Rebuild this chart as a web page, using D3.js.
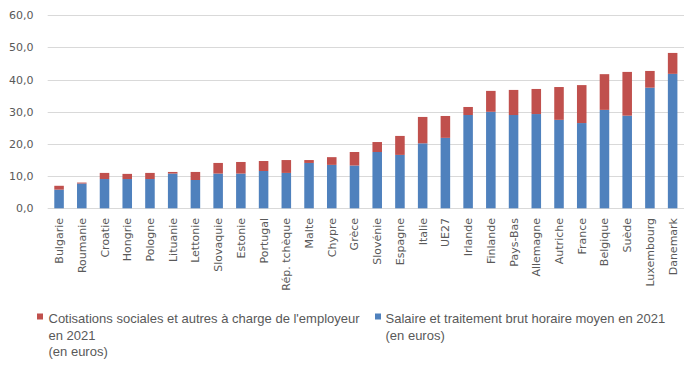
<!DOCTYPE html>
<html>
<head>
<meta charset="utf-8">
<script src="https://cdn.jsdelivr.net/npm/d3@7"></script>
<style>
  body { margin: 0; background: #fff; }
  svg { display: block; }
  .tick-label { font-family: "DejaVu Sans", sans-serif; font-size: 11px; fill: #595959; }
  .legend-font { font-family: "Liberation Sans", sans-serif; font-size: 13px; fill: #595959; }
</style>
</head>
<body>
<svg id="chart"></svg>
<script>
const countries = ["Bulgarie", "Roumanie", "Croatie", "Hongrie", "Pologne", "Lituanie", "Lettonie",
    "Slovaquie", "Estonie", "Portugal", "Rép. tchèque", "Malte", "Chypre", "Grèce", "Slovénie",
    "Espagne", "Italie", "UE27", "Irlande", "Finlande", "Pays-Bas", "Allemagne", "Autriche",
    "France", "Belgique", "Suède", "Luxembourg", "Danemark"];

// salaire brut horaire moyen (bleu)
const salaire = [5.8, 7.7, 9.1, 9.1, 9.1, 10.8, 8.8, 10.8, 10.8, 11.6, 11.0, 14.1, 13.5, 13.3, 17.5,
    16.6, 20.2, 21.9, 29.0, 30.0, 29.0, 29.3, 27.5, 26.5, 30.6, 28.8, 37.5, 41.8];

// cotisations employeur (rouge), posées sur le salaire
const cotisations = [1.2, 0.3, 1.9, 1.6, 1.9, 0.5, 2.5, 3.3, 3.6, 3.1, 4.0, 0.9, 2.4, 4.2, 3.1,
    5.9, 8.2, 6.8, 2.5, 6.5, 7.8, 7.8, 10.2, 11.8, 11.1, 13.6, 5.2, 6.5];

const yTicks = [0, 10, 20, 30, 40, 50, 60];

const legendLabels = [
    ["Cotisations sociales et autres à charge de l'employeur", "en 2021", "(en euros)"],
    ["Salaire et traitement brut horaire moyen en 2021", "(en euros)"]
];

const colors = { salaire: "#4F81BD", cotisations: "#C0504D" };

function drawChart(){
    const width = 696;
    const height = 372;

    const svg = d3.select("#chart")
                    .attr("width", width)
                    .attr("height", height);

    const x = d3.scaleBand()
                .domain(countries)
                .range([47.7, 684])
                .paddingInner(0.58)
                .paddingOuter(0.29);

    const y = d3.scaleLinear()
                .domain([0, 60])
                .range([208.3, 15.3]);

    // gridlines
    svg.append("g")
        .selectAll("line")
        .data(yTicks)
        .enter()
        .append("line")
        .attr("x1", 47.7)
        .attr("x2", 684)
        .attr("y1", d => Math.round(y(d)) + 0.5)
        .attr("y2", d => Math.round(y(d)) + 0.5)
        .attr("stroke", "#d9d9d9")
        .attr("stroke-width", 1);

    // y axis labels
    svg.append("g")
        .selectAll("text")
        .data(yTicks)
        .enter()
        .append("text")
        .attr("class", "tick-label")
        .attr("x", 33.5)
        .attr("y", d => y(d))
        .attr("dy", "0.36em")
        .attr("text-anchor", "end")
        .text(d => d3.format(".1f")(d).replace(".", ","));

    const rows = countries.map((c, i) => ({ country: c, salaire: salaire[i], cotisations: cotisations[i] }));
    const stacked = d3.stack().keys(["salaire", "cotisations"])(rows);

    svg.append("g")
        .selectAll("g")
        .data(stacked)
        .enter()
        .append("g")
        .attr("fill", s => colors[s.key])
        .selectAll("rect")
        .data(s => s)
        .enter()
        .append("rect")
        .attr("x", d => x(d.data.country))
        .attr("y", d => y(d[1]))
        .attr("width", x.bandwidth())
        .attr("height", d => y(d[0]) - y(d[1]));

    // x labels, rotated
    svg.append("g")
        .selectAll("text")
        .data(countries)
        .enter()
        .append("text")
        .attr("class", "tick-label")
        .attr("transform", c => `translate(${x(c) + x.bandwidth() / 2 + 4}, 218) rotate(-90)`)
        .attr("text-anchor", "end")
        .text(c => c);

    // legend
    const legendPos = [{ x: 37, tx: 48.5 }, { x: 375, tx: 385.5 }];
    const legend = svg.append("g")
                        .selectAll("g")
                        .data(legendLabels)
                        .enter()
                        .append("g");

    legend.append("rect")
            .attr("x", (d, i) => legendPos[i].x)
            .attr("y", 313.5)
            .attr("width", 6)
            .attr("height", 6)
            .attr("fill", (d, i) => i == 0 ? colors.cotisations : colors.salaire);

    legend.each(function(lines, i){
        d3.select(this).selectAll("text")
            .data(lines)
            .enter()
            .append("text")
            .attr("class", "legend-font")
            .attr("x", legendPos[i].tx)
            .attr("y", (d, j) => 323 + j * 16.5)
            .text(d => d);
    });
}

drawChart();
</script>
</body>
</html>
